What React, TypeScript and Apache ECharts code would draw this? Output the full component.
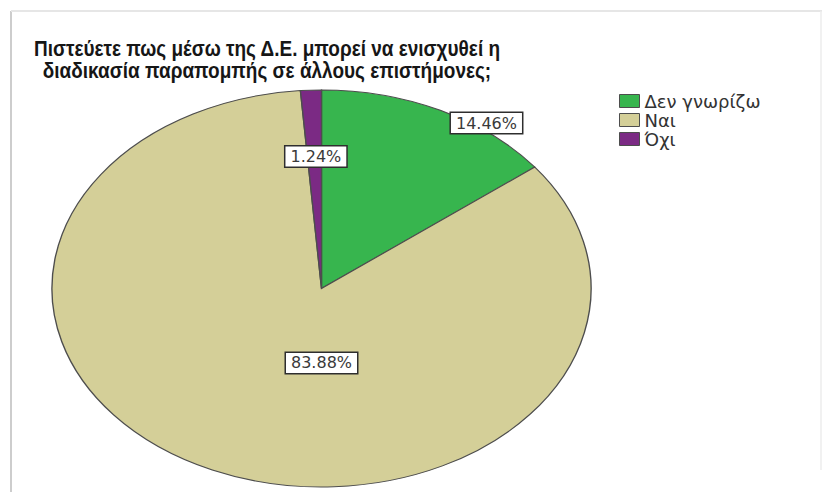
import React, { useEffect, useRef } from 'react';
import * as echarts from 'echarts';

const titleLines = [
  'Πιστεύετε πως μέσω της Δ.Ε. μπορεί να ενισχυθεί η',
  'διαδικασία παραπομπής σε άλλους επιστήμονες;',
];
const categories = ['Δεν γνωρίζω', 'Ναι', 'Όχι'];
const percentages = [14.46, 83.88, 1.24];

const sliceColors = ['#37b54e', '#d4cf98', '#7b2a84'];
// label anchor: angle in degrees clockwise from 12 o'clock, distance as a fraction of the radius
const labelAngles = [36.3, 180, -1.8];
const labelDistances = [1.034, 0.375, 0.665];

// elliptical pie geometry
const PIE = { cx: 321.5, cy: 288.5, rx: 269.5, ry: 198.5 };

export default function App() {
  const ref = useRef<HTMLDivElement>(null);

  useEffect(() => {
    if (!ref.current) return;
    const chart = echarts.init(ref.current, undefined, { renderer: 'svg' });

    const total = percentages.reduce((a, b) => a + b, 0);
    const starts: number[] = [];
    let acc = 0;
    percentages.forEach((v) => {
      starts.push(acc);
      acc += v;
    });

    const series = categories.map((name, i) => ({
      type: 'custom',
      name,
      coordinateSystem: 'none',
      data: [percentages[i]],
      itemStyle: { color: sliceColors[i] },
      renderItem: (_params: any, api: any) => {
        const value = api.value(0) as number;
        const a0 = -Math.PI / 2 + (starts[i] / total) * Math.PI * 2;
        const a1 = a0 + (value / total) * Math.PI * 2;
        const la = (labelAngles[i] * Math.PI) / 180;
        const lx = PIE.cx + PIE.rx * labelDistances[i] * Math.sin(la);
        const ly = PIE.cy - PIE.ry * labelDistances[i] * Math.cos(la);
        return {
          type: 'group',
          children: [
            {
              type: 'sector',
              x: PIE.cx,
              y: PIE.cy,
              scaleX: PIE.rx / PIE.ry,
              shape: { cx: 0, cy: 0, r0: 0, r: PIE.ry, startAngle: a0, endAngle: a1, clockwise: true },
              style: { fill: sliceColors[i], stroke: '#4d4d4d', lineWidth: 1 },
            },
            {
              type: 'text',
              x: lx,
              y: ly,
              z2: 100,
              style: {
                text: value.toFixed(2) + '%',
                fill: '#3a3a3a',
                fontSize: 16,
                fontFamily: 'DejaVu Sans',
                align: 'center',
                verticalAlign: 'middle',
                backgroundColor: '#ffffff',
                borderColor: '#2e2e2e',
                borderWidth: 1.5,
                padding: [2, 5],
              },
            },
          ],
        };
      },
    }));

    chart.setOption({
      animation: false,
      backgroundColor: '#ffffff',
      legend: {
        orient: 'vertical',
        left: 614,
        top: 87,
        itemWidth: 20,
        itemHeight: 13,
        itemGap: 1,
        icon: 'rect',
        itemStyle: { borderColor: '#4d4d4d', borderWidth: 1 },
        textStyle: { fontFamily: 'DejaVu Sans', fontSize: 18, color: '#333333' },
        data: categories,
      },
      graphic: [
        {
          type: 'line',
          shape: { x1: 11, y1: 492, x2: 11, y2: 11 },
          style: { stroke: '#cdcdcd', lineWidth: 2 },
          silent: true,
        },
        {
          type: 'line',
          shape: { x1: 11, y1: 11, x2: 822, y2: 11 },
          style: { stroke: '#e6e6e6', lineWidth: 2 },
          silent: true,
        },
        {
          type: 'line',
          shape: { x1: 821, y1: 11, x2: 821, y2: 470 },
          style: { stroke: '#ededed', lineWidth: 1.5 },
          silent: true,
        },
        {
          type: 'text',
          x: 267,
          y: 37,
          scaleY: 1.15,
          style: {
            text: titleLines.join('\n'),
            fontFamily: 'Liberation Sans',
            fontWeight: 'bold',
            fontSize: 19,
            lineHeight: 19,
            fill: '#161616',
            align: 'center',
            verticalAlign: 'top',
          },
        },
      ],
      series,
    });

    return () => chart.dispose();
  }, []);

  return (
    <div style={{ position: 'fixed', left: 0, top: 0, width: 822, height: 498, background: '#fff' }}>
      <div ref={ref} style={{ width: 822, height: 498 }} />
    </div>
  );
}
